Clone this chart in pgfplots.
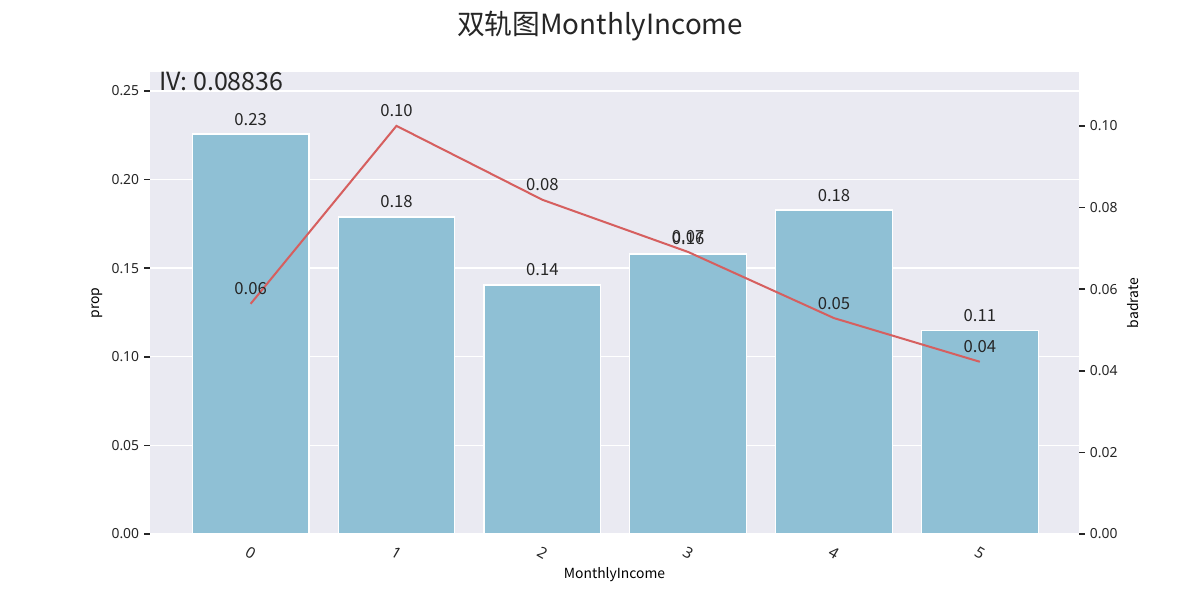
\documentclass[border=0pt]{standalone}
\usepackage{fontspec}
\setmainfont{Noto Sans CJK SC}
\newfontfamily\tickfont{Noto Sans}
\usepackage{pgfplots}
\pgfplotsset{compat=1.18}
\definecolor{bgc}{HTML}{EAEAF2}
\definecolor{barc}{RGB}{143,192,213}
\definecolor{linec}{HTML}{D65F5F}
\definecolor{txt}{HTML}{262626}
\begin{document}
\begin{tikzpicture}
\path[use as bounding box] (-108pt,-47.52pt) rectangle (756pt,384.48pt);
\begin{axis}[
  scale only axis, width=668.88pt, height=332.64pt,
  xmin=-0.69, xmax=5.68, ymin=0, ymax=0.2607,
  axis background/.style={fill=bgc},
  axis line style={draw=none},
  ymajorgrids, grid style={white, line width=1pt},
  xtick={0,1,2,3,4,5}, xticklabels={0,1,2,3,4,5},
  xtick style={draw=none},
  ytick={0,0.05,0.1,0.15,0.2,0.25},
  ytick pos=left, tick align=outside, major tick length=4.3pt,
  ytick style={txt, line width=1.1pt},
  yticklabel style={/pgf/number format/.cd, fixed, fixed zerofill, precision=2, assume math mode=true},
  scaled y ticks=false,
  ticklabel style={font=\tickfont\fontsize{10}{12}\selectfont, text=txt},
  xticklabel style={font=\tickfont\fontsize{11}{12}\selectfont, yshift=-9.5pt, rotate=-30, anchor=center},
  ylabel={prop}, xlabel={MonthlyIncome},
  label style={font=\tickfont\fontsize{10}{12}\selectfont, text=txt},
  every axis y label/.style={at={(axis description cs:-0.0571,0.5)}, rotate=90, anchor=center},
  every axis x label/.style={at={(axis description cs:0.5,-0.0887)}, anchor=center},
  ybar, bar width=0.8,
  nodes near coords={\pgfmathprintnumber[fixed, fixed zerofill, precision=2, assume math mode=true]{\pgfplotspointmeta}},
  every node near coord/.append style={font=\fontsize{12}{14}\selectfont, text=txt, anchor=base, inner sep=0pt, yshift=6.5pt},
  clip=false,
]
\addplot[fill=barc, draw=white, line width=0.8pt] coordinates {(0,0.2257) (1,0.1789) (2,0.1405) (3,0.1580) (4,0.1828) (5,0.1146)};
\node[anchor=base west, font=\fontsize{18}{20}\selectfont, text=txt, inner sep=0pt] at (axis cs:-0.63,0.2505) {IV: 0.08836};
\end{axis}
\begin{axis}[
  scale only axis, width=668.88pt, height=332.64pt,
  xmin=-0.69, xmax=5.68, ymin=0, ymax=0.1132,
  hide x axis,
  axis line style={draw=none},
  axis y line*=right,
  ytick={0,0.02,0.04,0.06,0.08,0.1},
  tick align=outside, major tick length=4.3pt,
  ytick style={txt, line width=1.1pt},
  yticklabel style={/pgf/number format/.cd, fixed, fixed zerofill, precision=2, assume math mode=true},
  scaled y ticks=false,
  ticklabel style={font=\tickfont\fontsize{10}{12}\selectfont, text=txt},
  ylabel={badrate},
  label style={font=\tickfont\fontsize{10}{12}\selectfont, text=txt},
  every axis y label/.style={at={(axis description cs:1.0581,0.5)}, rotate=90, anchor=center},
  nodes near coords={\pgfmathprintnumber[fixed, fixed zerofill, precision=2, assume math mode=true]{\pgfplotspointmeta}},
  every node near coord/.append style={font=\fontsize{12}{14}\selectfont, text=txt, anchor=base, inner sep=0pt, yshift=6.5pt},
  clip=false,
]
\addplot[linec, line width=1.45pt, mark=none] coordinates {(0,0.0564) (1,0.1000) (2,0.0819) (3,0.0691) (4,0.0529) (5,0.0422)};
\end{axis}
\node[font=\fontsize{20}{24}\selectfont, text=txt] at (324pt,365.76pt) {双轨图MonthlyIncome};
\end{tikzpicture}
\end{document}
